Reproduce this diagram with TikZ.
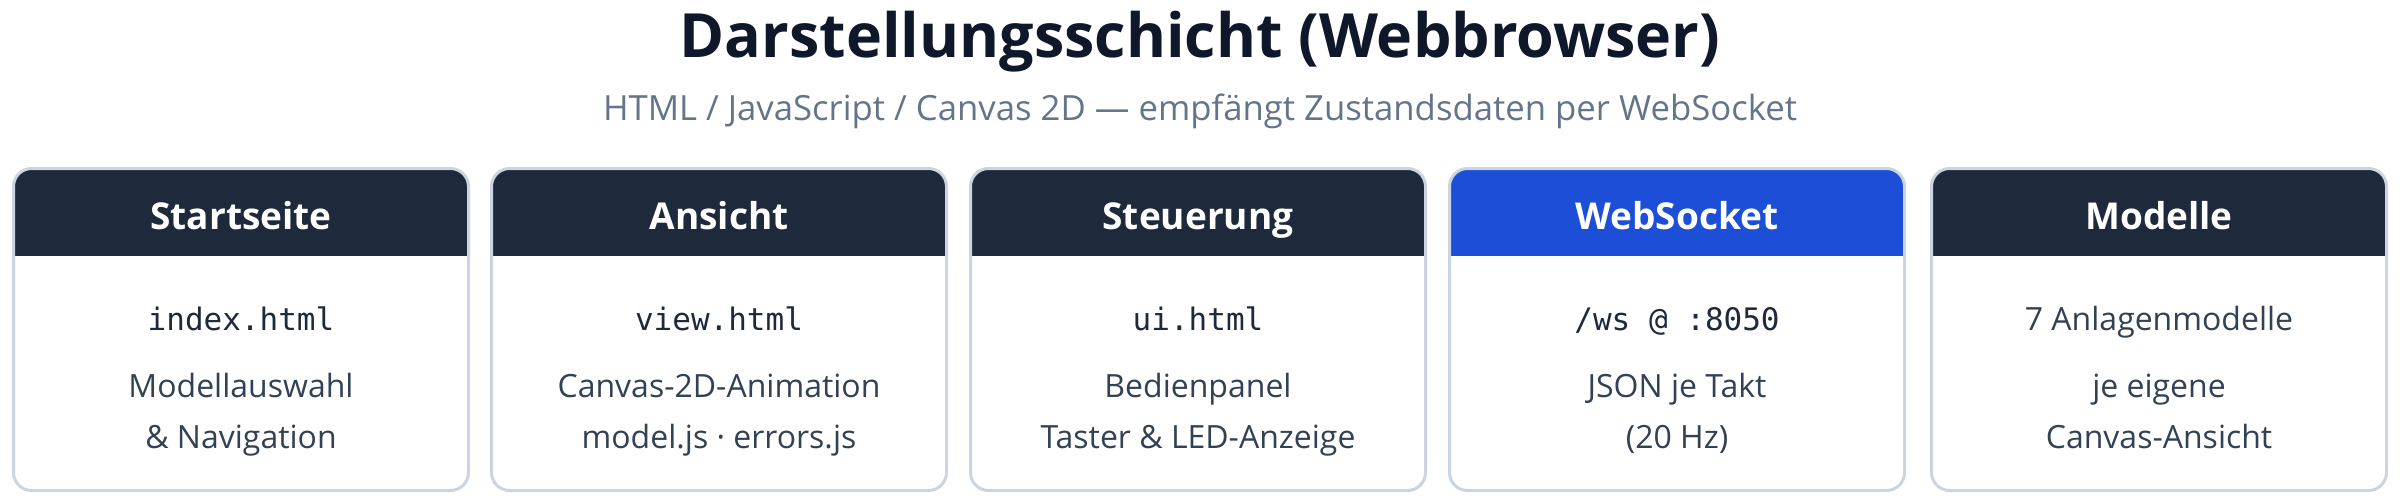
\documentclass[tikz,border=0pt]{standalone}
\usepackage{fontspec}
\setmainfont{Open Sans}
\setmonofont{DejaVu Sans Mono}
\definecolor{hdrdark}{HTML}{1E293B}
\definecolor{hdrblue}{HTML}{1D4ED8}
\definecolor{bordercol}{HTML}{CBD5E1}
\definecolor{titlecol}{HTML}{0F172A}
\definecolor{subcol}{HTML}{64748B}
\definecolor{bodycol}{HTML}{334155}
\definecolor{monocol}{HTML}{1E293B}
\newcommand\panelbox[4]{%
  % #1 name, #2 left x, #3 header colour, #4 header text
  \begin{scope}
    \clip[rounded corners=18pt] (#2+1.5,168.5) rectangle (#2+456.5,490.5);
    \fill[white] (#2,167) rectangle (#2+458,492);
    \fill[#3] (#2,167) rectangle (#2+458,256);
  \end{scope}
  \node[panelframe] (#1) at (#2+229,329.5) {};
  \node[hdrtext] (#1-h) at (#2+229,229) {#4};
}
\tikzset{
  panelframe/.style={draw=bordercol, line width=3pt, rounded corners=18pt,
    minimum width=455pt, minimum height=322pt, inner sep=0pt},
  hdrtext/.style={text=white, font=\fontsize{37}{44}\selectfont\bfseries, inner sep=0pt, anchor=base},
  monotext/.style={text=monocol, font=\fontsize{31}{36}\selectfont\ttfamily, inner sep=0pt, anchor=base},
  bodytext/.style={text=bodycol, font=\fontsize{32}{38}\selectfont, inner sep=0pt, anchor=base},
}
\begin{document}
\begin{tikzpicture}[x=1pt,y=-1pt]
\useasboundingbox (0,0) rectangle (2400,503);
\node[text=titlecol, font=\fontsize{61}{70}\selectfont\bfseries, inner sep=0pt, anchor=base] (title) at (1200,57) {Darstellungsschicht (Webbrowser)};
\node[text=subcol, font=\fontsize{34.7}{42}\selectfont, inner sep=0pt, anchor=base] (subtitle) at (1200,120) {HTML / JavaScript / Canvas 2D — empfängt Zustandsdaten per WebSocket};

\panelbox{p1}{12}{hdrdark}{Startseite}
\panelbox{p2}{490}{hdrdark}{Ansicht}
\panelbox{p3}{969}{hdrdark}{Steuerung}
\panelbox{p4}{1448}{hdrblue}{WebSocket}
\panelbox{p5}{1930}{hdrdark}{Modelle}

\node[monotext] (p1-a) at (p1.center |- 0,330) {index.html};
\node[bodytext] (p1-b) at (p1.center |- 0,397) {Modellauswahl};
\node[bodytext] (p1-c) at (p1.center |- 0,448) {\& Navigation};

\node[monotext] (p2-a) at (p2.center |- 0,330) {view.html};
\node[bodytext] (p2-b) at (p2.center |- 0,397) {Canvas-2D-Animation};
\node[bodytext] (p2-c) at (p2.center |- 0,448) {model.js · errors.js};

\node[monotext] (p3-a) at (p3.center |- 0,330) {ui.html};
\node[bodytext] (p3-b) at (p3.center |- 0,397) {Bedienpanel};
\node[bodytext] (p3-c) at (p3.center |- 0,448) {Taster \& LED-Anzeige};

\node[monotext] (p4-a) at (p4.center |- 0,330) {/ws @ :8050};
\node[bodytext] (p4-b) at (p4.center |- 0,397) {JSON je Takt};
\node[bodytext] (p4-c) at (p4.center |- 0,448) {(20 Hz)};

\node[bodytext] (p5-a) at (p5.center |- 0,330) {7 Anlagenmodelle};
\node[bodytext] (p5-b) at (p5.center |- 0,397) {je eigene};
\node[bodytext] (p5-c) at (p5.center |- 0,448) {Canvas-Ansicht};
\end{tikzpicture}
\end{document}
